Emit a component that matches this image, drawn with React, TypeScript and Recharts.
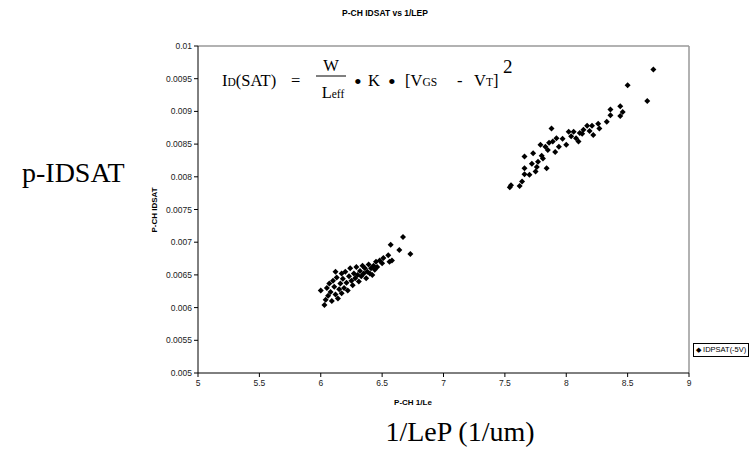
import React from 'react';
import {
  ScatterChart,
  Scatter,
  XAxis,
  YAxis,
  ReferenceLine,
} from 'recharts';

// 1/Le (1/um) vs IDSAT (A) -- short channel group
const groupLow: [number, number][] = [
  [6.0, 0.00626], [6.03, 0.00604], [6.04, 0.00612], [6.06, 0.00618], [6.05, 0.0063],
  [6.07, 0.00637], [6.08, 0.00624], [6.09, 0.0061], [6.1, 0.00641], [6.11, 0.00632],
  [6.12, 0.0062], [6.12, 0.00655], [6.13, 0.00646], [6.14, 0.00614], [6.15, 0.00628],
  [6.16, 0.00637], [6.17, 0.00652], [6.17, 0.00622], [6.18, 0.00644], [6.19, 0.0063],
  [6.2, 0.00655], [6.21, 0.00638], [6.22, 0.00626], [6.23, 0.00648], [6.24, 0.0066],
  [6.25, 0.00641], [6.26, 0.00634], [6.27, 0.00652], [6.28, 0.00645], [6.29, 0.00662],
  [6.3, 0.0065], [6.31, 0.0064], [6.32, 0.00656], [6.33, 0.00648], [6.34, 0.00664],
  [6.35, 0.00652], [6.36, 0.0066], [6.37, 0.00645], [6.38, 0.00655], [6.39, 0.00666],
  [6.4, 0.00652], [6.41, 0.0066], [6.42, 0.0065], [6.43, 0.00664], [6.44, 0.00658],
  [6.45, 0.0067], [6.46, 0.00662], [6.48, 0.00672], [6.5, 0.00668], [6.51, 0.00676],
  [6.55, 0.0068], [6.56, 0.0067], [6.57, 0.00696], [6.58, 0.00672], [6.64, 0.00688],
  [6.67, 0.00708], [6.73, 0.00682],
];

// long channel group
const groupHigh: [number, number][] = [
  [7.54, 0.00784], [7.55, 0.00787], [7.62, 0.00786], [7.64, 0.00793], [7.66, 0.00804],
  [7.7, 0.00803], [7.75, 0.00808], [7.66, 0.00813], [7.76, 0.00815], [7.84, 0.00813],
  [7.77, 0.00823], [7.81, 0.00828], [7.66, 0.00831], [7.73, 0.00836], [7.79, 0.00849],
  [7.83, 0.00846], [7.85, 0.00841], [7.91, 0.00838], [7.94, 0.00846], [7.89, 0.00854],
  [7.92, 0.00859], [7.88, 0.00874], [8.0, 0.00849], [8.1, 0.00854], [8.08, 0.00859],
  [8.02, 0.00869], [8.06, 0.00869], [8.11, 0.00867], [8.14, 0.00872], [8.22, 0.00864],
  [8.17, 0.00878], [8.21, 0.00878], [8.27, 0.00874], [8.26, 0.00881], [8.33, 0.00884],
  [8.36, 0.00894], [8.36, 0.00903], [8.44, 0.00893], [8.46, 0.00899], [8.44, 0.00908],
  [8.66, 0.00916], [8.5, 0.0094], [8.71, 0.00964], [7.8, 0.00832], [7.86, 0.00852],
  [7.97, 0.00858], [8.04, 0.00862], [8.13, 0.00866], [8.19, 0.0087], [7.72, 0.0082],
];

const xTicks = [5, 5.5, 6, 6.5, 7, 7.5, 8, 8.5, 9];
const yTicks = [0.005, 0.0055, 0.006, 0.0065, 0.007, 0.0075, 0.008, 0.0085, 0.009, 0.0095, 0.01];

const seriesName = 'IDPSAT(-5V)';

const points = [...groupLow, ...groupHigh].map(([x, y]) => ({ x, y }));

const Diamond = (props: any) => {
  const { cx, cy } = props;
  const r = 3;
  return (
    <polygon
      points={`${cx},${cy - r} ${cx + r},${cy} ${cx},${cy + r} ${cx - r},${cy}`}
      fill="#000"
    />
  );
};

const tickStyle = { fontSize: 8.5, fill: '#222', fontFamily: 'Liberation Sans, Arial, sans-serif' };

export default function App() {
  const sub = 11.5;
  const main = 16.5;
  return (
    <div
      style={{
        position: 'absolute',
        left: 0,
        top: 0,
        width: 755,
        height: 460,
        overflow: 'hidden',
        background: '#fff',
      }}
    >
      <ScatterChart
        width={755}
        height={460}
        margin={{ top: 46, right: 66, bottom: 57, left: 138 }}
      >
        <ReferenceLine y={0.01} stroke="#999" strokeWidth={1.5} />
        <ReferenceLine x={9} stroke="#999" strokeWidth={1.5} />
        <XAxis
          type="number"
          dataKey="x"
          domain={[5, 9]}
          ticks={xTicks}
          height={30}
          stroke="#000"
          tickSize={4}
          tickMargin={3}
          tick={tickStyle}
          interval={0}
        />
        <YAxis
          type="number"
          dataKey="y"
          domain={[0.005, 0.01]}
          ticks={yTicks}
          width={60}
          stroke="#000"
          tickSize={4}
          tickMargin={2}
          tick={tickStyle}
          interval={0}
          tickFormatter={(v: number) => String(v)}
        />
        <Scatter
          name={seriesName}
          data={points}
          shape={<Diamond />}
          isAnimationActive={false}
        />
      </ScatterChart>

      <svg
        width={755}
        height={460}
        style={{ position: 'absolute', left: 0, top: 0, pointerEvents: 'none' }}
      >
        <g fontFamily="Liberation Sans, Arial, sans-serif" fontWeight="bold" fill="#000">
          <text x={385} y={16} fontSize={8.5} textAnchor="middle">P-CH IDSAT vs 1/LEP</text>
          <text x={413} y={405} fontSize={8} textAnchor="middle">P-CH 1/Le</text>
          <text
            x={157}
            y={210}
            fontSize={8}
            textAnchor="middle"
            transform="rotate(-90 157 210)"
          >
            P-CH IDSAT
          </text>
        </g>

        <g fontFamily="Liberation Serif, Times New Roman, serif" fill="#000">
          <text x={22} y={182} fontSize={28}>p-IDSAT</text>
          <text x={460} y={441} fontSize={28} textAnchor="middle">1/LeP (1/um)</text>

          <text x={222} y={86} fontSize={main}>
            I<tspan fontSize={sub}>D</tspan>(SAT)
          </text>
          <text x={291} y={86} fontSize={main}>=</text>
          <text x={331} y={71} fontSize={main} textAnchor="middle">W</text>
          <line x1={316} y1={76} x2={346} y2={76} stroke="#000" strokeWidth={1} />
          <text x={333} y={98} fontSize={main} textAnchor="middle">
            L<tspan fontSize={sub}>eff</tspan>
          </text>
          <text x={354} y={89} fontSize={22}>•</text>
          <text x={368} y={86} fontSize={main}>K</text>
          <text x={388} y={89} fontSize={22}>•</text>
          <text x={405} y={86} fontSize={main}>
            [V<tspan fontSize={sub}>GS</tspan>
          </text>
          <text x={457} y={86} fontSize={main}>-</text>
          <text x={474} y={86} fontSize={main}>
            V<tspan fontSize={sub}>T</tspan>]
          </text>
          <text x={503} y={73} fontSize={19}>2</text>
        </g>
      </svg>

      <div
        style={{
          position: 'absolute',
          left: 693,
          top: 343,
          border: '1px solid #000',
          padding: '1px 2px',
          fontFamily: 'Liberation Sans, Arial, sans-serif',
          fontSize: 7.5,
          whiteSpace: 'nowrap',
          background: '#fff',
          lineHeight: '10px',
        }}
      >
        <span style={{ fontSize: 7 }}>◆</span> {seriesName}
      </div>
    </div>
  );
}
